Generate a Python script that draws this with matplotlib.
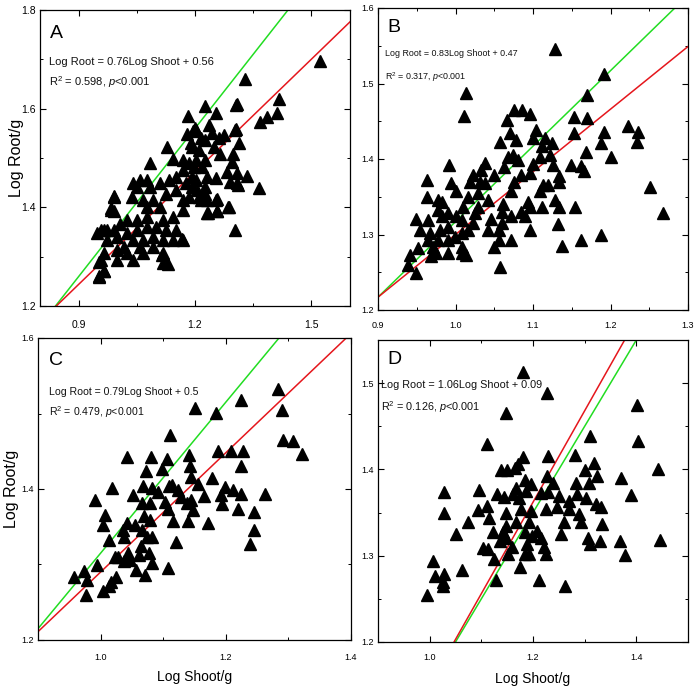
import matplotlib
matplotlib.use("Agg")
import matplotlib.pyplot as plt
from matplotlib.ticker import MultipleLocator, FormatStrFormatter
import numpy as np

# ---------------- data ----------------
a_shoot = [1.523, 1.328, 1.418, 1.411, 1.387, 1.367, 1.364, 1.226, 1.254, 1.307, 1.182, 1.199, 1.305,
           1.129, 1.302, 1.288, 1.333, 1.309, 1.258, 1.234, 1.256, 1.084, 1.131, 1.114, 1.167, 0.991,
           0.982, 0.991, 0.953, 0.951, 0.965, 0.957, 0.974,
           1.179, 1.195, 1.143, 1.168, 1.193, 0.990, 0.982, 1.041, 1.058, 1.075, 1.050, 1.083, 1.109,
           1.134, 1.151, 1.168, 1.185, 1.202, 1.193, 1.176, 1.151, 1.126, 1.092, 1.066, 1.037, 1.075,
           1.109, 1.168, 1.185, 1.168, 1.143, 1.117, 1.075, 1.050, 1.024, 1.007, 0.990, 0.965, 0.948,
           0.973, 0.999, 1.024, 1.050, 1.075, 1.100, 1.126, 1.151, 1.168, 1.143, 1.117, 1.092, 1.066,
           1.041, 1.016, 0.999, 0.965, 0.957, 1.024, 1.058, 1.092, 1.117, 0.999, 1.117, 0.965, 0.953,
           1.066, 1.041,
           1.308, 1.302, 1.314, 1.299, 1.295, 1.282, 1.308, 1.291, 1.312, 1.286, 1.253, 1.253, 1.231,
           1.257, 1.231, 1.227, 1.210, 1.202, 1.198, 1.219, 1.227, 1.231, 1.210, 1.227, 1.244, 1.261,
           1.274, 1.265, 1.248, 1.236, 1.215, 1.202, 1.190, 1.193, 1.205, 1.215, 1.227]
a_root = [1.697, 1.661, 1.619, 1.592, 1.584, 1.572, 1.439, 1.605, 1.592, 1.607, 1.585, 1.561, 1.558,
          1.523, 1.354, 1.400, 1.463, 1.449, 1.393, 1.389, 1.416, 1.489, 1.286, 1.303, 1.335, 1.423,
          1.398, 1.393, 1.290, 1.259, 1.270, 1.354, 1.354,
          1.549, 1.555, 1.497, 1.496, 1.523, 1.421, 1.395, 1.449, 1.455, 1.455, 1.442, 1.442, 1.449,
          1.455, 1.462, 1.476, 1.489, 1.496, 1.462, 1.449, 1.435, 1.428, 1.415, 1.415, 1.421, 1.401,
          1.401, 1.415, 1.421, 1.395, 1.381, 1.374, 1.381, 1.374, 1.374, 1.367, 1.354, 1.354, 1.347,
          1.334, 1.340, 1.347, 1.354, 1.361, 1.361, 1.354, 1.354, 1.334, 1.334, 1.334, 1.340, 1.334,
          1.334, 1.320, 1.313, 1.307, 1.293, 1.307, 1.320, 1.320, 1.307, 1.293, 1.287, 1.270, 1.260,
          1.307, 1.293,
          1.609, 1.557, 1.530, 1.509, 1.492, 1.472, 1.469, 1.452, 1.445, 1.401, 1.459, 1.415, 1.388,
          1.393, 1.415, 1.442, 1.421, 1.455, 1.482, 1.482, 1.496, 1.462, 1.516, 1.536, 1.550, 1.540,
          1.547, 1.509, 1.523, 1.567, 1.540, 1.557, 1.530, 1.442, 1.435, 1.415, 1.428]

b_shoot = [1.128, 1.192, 1.013, 1.011, 1.170, 1.170, 1.153, 1.153, 1.076, 1.086, 1.096, 1.066, 1.070,
           1.104, 1.057, 1.078, 1.100, 1.115, 1.124, 1.192, 1.188, 1.169, 1.201, 1.223, 1.235, 1.234,
           1.251, 1.268, 1.188, 1.162, 1.137, 1.132, 1.134, 1.154, 1.128, 1.162, 1.166, 1.149, 1.133,
           1.133, 1.126, 1.122, 1.111, 1.109, 1.119, 1.113, 1.109, 1.111, 1.096, 1.094, 1.085, 1.071,
           1.071, 1.060, 1.061, 1.060, 1.056, 1.056, 1.050, 1.058, 1.042, 1.046, 1.050, 1.071, 1.076,
           1.085, 1.096, 1.100, 1.063, 1.068, 1.074, 1.080, 1.038, 1.033, 1.031, 1.023, 1.019, 1.029,
           1.029, 1.025, 1.023, 1.016, 1.016, 1.010, 1.008, 1.008, 1.008, 1.008, 1.014, 0.999, 1.001,
           1.000, 0.994, 0.992, 0.990, 0.990, 0.990, 0.990, 0.982, 0.980, 0.977, 0.975, 0.977, 0.977,
           0.982, 0.971, 0.967, 0.965, 0.963, 0.963, 0.965, 0.954, 0.951, 0.949, 0.941, 0.949, 0.939,
           1.038, 1.042, 0.969, 1.096, 1.090]
b_root = [1.546, 1.513, 1.487, 1.457, 1.485, 1.454, 1.456, 1.434, 1.465, 1.465, 1.459, 1.452, 1.434,
          1.439, 1.423, 1.425, 1.428, 1.428, 1.421, 1.436, 1.421, 1.409, 1.403, 1.444, 1.436, 1.422,
          1.363, 1.329, 1.299, 1.293, 1.285, 1.314, 1.336, 1.336, 1.346, 1.391, 1.384, 1.392, 1.378,
          1.369, 1.392, 1.405, 1.417, 1.403, 1.366, 1.366, 1.357, 1.337, 1.337, 1.343, 1.330, 1.324,
          1.293, 1.330, 1.341, 1.315, 1.306, 1.293, 1.284, 1.257, 1.306, 1.320, 1.379, 1.357, 1.370,
          1.379, 1.381, 1.394, 1.390, 1.403, 1.405, 1.399, 1.395, 1.386, 1.370, 1.379, 1.370, 1.355,
          1.337, 1.328, 1.315, 1.306, 1.350, 1.337, 1.319, 1.302, 1.284, 1.275, 1.273, 1.297, 1.324,
          1.357, 1.368, 1.392, 1.328, 1.310, 1.293, 1.275, 1.324, 1.306, 1.293, 1.275, 1.346, 1.333,
          1.343, 1.284, 1.302, 1.319, 1.350, 1.372, 1.293, 1.306, 1.282, 1.321, 1.273, 1.249, 1.260,
          1.368, 1.346, 1.271, 1.306, 1.324]

c_shoot = [1.284, 1.225, 1.150, 1.184, 1.290, 1.111, 1.292, 1.308, 1.322, 1.188, 1.209, 1.227, 1.225,
           1.141, 1.143, 1.144, 1.178, 1.156, 1.042, 1.081, 1.106, 1.098, 1.072, 1.110, 1.114, 1.124,
           1.129, 1.138, 1.144, 1.148, 1.139, 1.165, 1.171, 1.193, 1.199, 1.212, 1.225, 1.194, 1.219,
           1.245, 1.245, 1.239, 1.263, 1.018, 0.991, 1.007, 1.004, 1.014, 1.052, 1.068, 1.082, 1.091,
           1.066, 1.079, 1.069, 1.079, 1.055, 1.042, 1.035, 1.038, 1.066, 1.074, 1.082, 1.064, 1.061,
           1.078, 1.082, 1.056, 1.071, 1.038, 1.047, 1.028, 1.023, 1.043, 1.107, 1.120, 1.103, 1.116,
           1.108, 0.994, 0.958, 0.973, 0.979, 0.976, 1.004, 1.014, 1.017, 1.024]
c_root = [1.532, 1.518, 1.507, 1.501, 1.505, 1.472, 1.465, 1.464, 1.447, 1.450, 1.450, 1.450, 1.430,
          1.445, 1.430, 1.416, 1.415, 1.407, 1.443, 1.442, 1.440, 1.427, 1.424, 1.404, 1.405, 1.399,
          1.390, 1.381, 1.386, 1.372, 1.357, 1.391, 1.355, 1.392, 1.403, 1.399, 1.393, 1.380, 1.374,
          1.370, 1.346, 1.327, 1.393, 1.401, 1.385, 1.366, 1.352, 1.332, 1.392, 1.404, 1.401, 1.396,
          1.381, 1.381, 1.364, 1.359, 1.352, 1.355, 1.346, 1.337, 1.346, 1.336, 1.336, 1.324, 1.313,
          1.315, 1.302, 1.293, 1.286, 1.304, 1.306, 1.310, 1.310, 1.315, 1.296, 1.330, 1.383, 1.357,
          1.374, 1.299, 1.284, 1.291, 1.279, 1.260, 1.265, 1.271, 1.277, 1.283]

d_shoot = [1.180, 1.228, 1.147, 1.401, 1.404, 1.110, 1.310, 1.442, 1.445, 1.027, 1.028, 1.075, 1.051,
           1.006, 1.010, 1.027, 1.026, 1.026, 0.994, 1.062, 1.096, 1.094, 1.110, 1.115, 1.123, 1.104,
           1.113, 1.125, 1.129, 1.131, 1.139, 1.150, 1.143, 1.148, 1.142, 1.147, 1.137, 1.152, 1.166,
           1.171, 1.180, 1.168, 1.184, 1.187, 1.196, 1.173, 1.177, 1.168, 1.184, 1.196, 1.192, 1.199,
           1.184, 1.192, 1.174, 1.212, 1.208, 1.215, 1.221, 1.225, 1.225, 1.215, 1.229, 1.229, 1.228,
           1.238, 1.251, 1.247, 1.260, 1.254, 1.262, 1.269, 1.270, 1.282, 1.283, 1.286, 1.289, 1.292,
           1.301, 1.302, 1.308, 1.307, 1.310, 1.318, 1.324, 1.321, 1.331, 1.334, 1.329, 1.369, 1.378,
           1.371, 1.390, 1.147, 1.160, 1.189, 1.161]
d_root = [1.513, 1.488, 1.465, 1.475, 1.433, 1.430, 1.439, 1.401, 1.318, 1.374, 1.349, 1.339, 1.325,
          1.294, 1.277, 1.279, 1.270, 1.265, 1.254, 1.284, 1.376, 1.353, 1.358, 1.344, 1.328, 1.309,
          1.308, 1.296, 1.272, 1.371, 1.399, 1.399, 1.368, 1.350, 1.328, 1.321, 1.317, 1.302, 1.402,
          1.406, 1.414, 1.379, 1.388, 1.375, 1.383, 1.367, 1.354, 1.339, 1.327, 1.352, 1.339, 1.323,
          1.302, 1.302, 1.287, 1.272, 1.329, 1.321, 1.310, 1.302, 1.354, 1.373, 1.374, 1.416, 1.392,
          1.384, 1.369, 1.356, 1.339, 1.325, 1.265, 1.363, 1.354, 1.417, 1.384, 1.372, 1.348, 1.339,
          1.399, 1.367, 1.384, 1.321, 1.314, 1.407, 1.392, 1.360, 1.356, 1.337, 1.317, 1.317, 1.301,
          1.390, 1.370, 1.334, 1.310, 1.314, 1.371]

panel_letters = ["A", "B", "C", "D"]
equations = ["Log Root = 0.76Log Shoot + 0.56", "Log Root = 0.83Log Shoot + 0.47",
             "Log Root = 0.79Log Shoot + 0.5", "Log Root = 1.06Log Shoot + 0.09"]
r2_text = [r"R$^2$ = 0.598, $\it{p}$<0.001", r"R$^2$ = 0.317, $\it{p}$<0.001",
           r"R$^2$ = 0.479, $\it{p}$<0.001", r"R$^2$ = 0.126, $\it{p}$<0.001"]
red_fit = [(0.76, 0.56), (0.83, 0.47), (0.79, 0.50), (1.06, 0.09)]
green_fit = [(1.0, 0.36), (1.0, 0.317), (1.0, 0.315), (1.0, 0.15)]
xlims = [(0.8, 1.6), (0.9, 1.3), (0.9, 1.4), (0.9, 1.5)]
ylims = [(1.2, 1.8), (1.2, 1.6), (1.2, 1.6), (1.2, 1.55)]
x_major = [0.3, 0.1, 0.2, 0.2]
x_minor = [0.15, 0.05, 0.1, 0.1]
y_major = [0.2, 0.1, 0.2, 0.1]
y_minor = [0.1, 0.05, 0.1, 0.05]
xlabel = "Log Shoot/g"
ylabel = "Log Root/g"

# ---------------- figure ----------------
plt.rcParams['font.family'] = ['Liberation Sans', 'DejaVu Sans']
plt.rcParams['mathtext.fontset'] = 'custom'
plt.rcParams['mathtext.rm'] = 'Liberation Sans'
plt.rcParams['mathtext.it'] = 'Liberation Sans:italic'

fig = plt.figure(figsize=(6.97, 6.91), dpi=100)
W, H = 697, 691
boxes = [(40, 350, 10, 306), (378, 688, 8, 310), (38, 351, 338, 640), (378, 688, 340, 642)]
text_pos = [(0.032, 0.919, 0.029, 0.824, 0.757),
            (0.029, 0.937, 0.023, 0.848, 0.772),
            (0.035, 0.927, 0.035, 0.821, 0.755),
            (0.030, 0.934, 0.010, 0.851, 0.778)]
eq_sizes = [8.0, 6.4, 7.6, 7.8]
tick_sizes = [7.5, 6.5, 6.5, 6.5]
xpad = [10, 8, 9, 8]
ylab_x = [-0.050, None, -0.060, None]
data = [(a_shoot, a_root), (b_shoot, b_root), (c_shoot, c_root), (d_shoot, d_root)]

for i, (l, r, t, b) in enumerate(boxes):
    ax = fig.add_axes([l / W, 1 - b / H, (r - l) / W, (b - t) / H])
    xs, ys = data[i]
    ax.plot(xs, ys, linestyle='none', marker='^', color='black', markersize=8, zorder=3)
    xx = np.array(xlims[i])
    m, c = green_fit[i]
    ax.plot(xx, m * xx + c, color='#22dd22', lw=1.1, zorder=2)
    m, c = red_fit[i]
    ax.plot(xx, m * xx + c, color='#e5161c', lw=1.1, zorder=2)
    ax.set_xlim(*xlims[i])
    ax.set_ylim(*ylims[i])
    ax.xaxis.set_major_locator(MultipleLocator(x_major[i]))
    ax.xaxis.set_minor_locator(MultipleLocator(x_minor[i]))
    ax.yaxis.set_major_locator(MultipleLocator(y_major[i]))
    ax.yaxis.set_minor_locator(MultipleLocator(y_minor[i]))
    if i == 0:
        ax.set_xticks([0.9, 1.2, 1.5])
    ax.xaxis.set_major_formatter(FormatStrFormatter('%.1f'))
    ax.yaxis.set_major_formatter(FormatStrFormatter('%.1f'))
    ax.tick_params(which='both', top=True, right=True, direction='in', labelsize=tick_sizes[i])
    ax.tick_params(axis='x', which='major', pad=xpad[i])
    ax.tick_params(axis='y', which='major', pad=3)
    ax.tick_params(which='major', length=4, width=0.8)
    ax.tick_params(which='minor', length=2.5, width=0.7)
    for s in ax.spines.values():
        s.set_linewidth(0.9)
    lx, ly, ex, ey1, ey2 = text_pos[i]
    ax.text(lx, ly, panel_letters[i], transform=ax.transAxes, fontsize=14, va='center', ha='left')
    ax.text(ex, ey1, equations[i], transform=ax.transAxes, fontsize=eq_sizes[i], va='center',
            ha='left', color='#111111')
    ax.text(ex, ey2, r2_text[i], transform=ax.transAxes, fontsize=eq_sizes[i], va='center',
            ha='left', color='#111111')
    if i in (0, 2):
        ax.set_ylabel(ylabel, fontsize=11.5)
        ax.yaxis.set_label_coords(ylab_x[i], 0.5)
    if i in (2, 3):
        ax.set_xlabel(xlabel, fontsize=10)
        ax.xaxis.set_label_coords(0.5, -0.10)

fig.savefig("out.png", dpi=100)
